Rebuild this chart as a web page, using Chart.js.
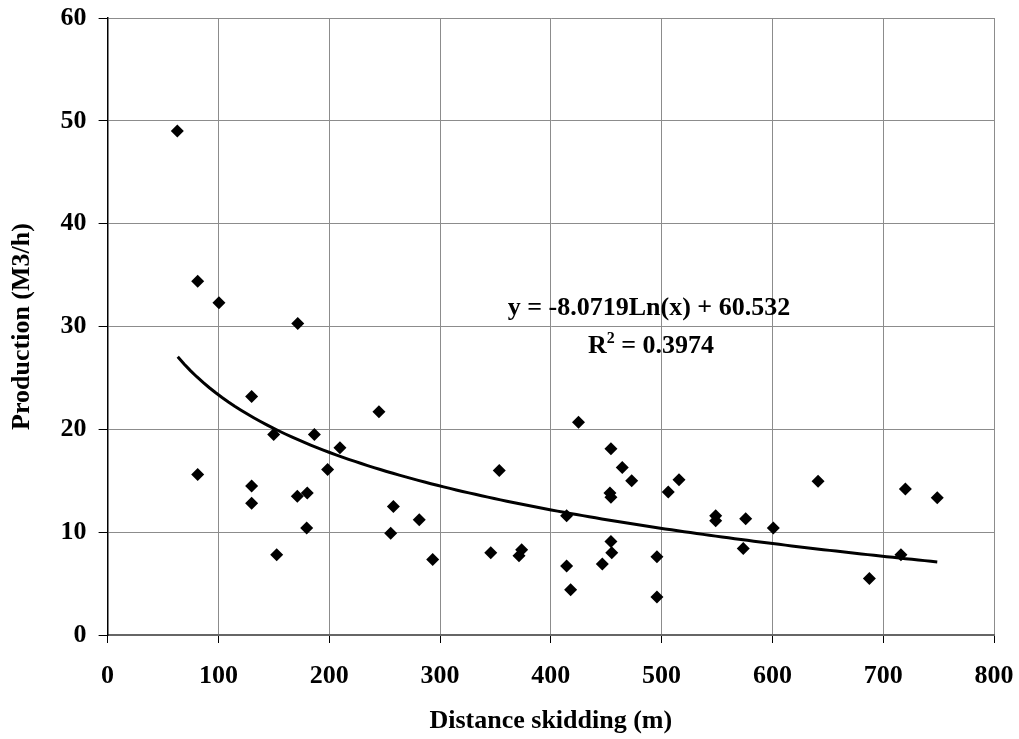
<!DOCTYPE html>
<html>
<head>
<meta charset="utf-8">
<script src="https://cdn.jsdelivr.net/npm/chart.js@4.4.1/dist/chart.umd.min.js"></script>
<style>
  html, body { margin: 0; padding: 0; background: #ffffff; }
  #wrap { width: 1019px; height: 739px; }
</style>
</head>
<body>
<div id="wrap"><canvas id="c" width="1019" height="739"></canvas></div>
<script>
// ---- Data ----
const distance = [62.9,81.3,100.5,171.6,130,149.9,186.6,209.7,198.6,81.3,130,130,171.2,180.2,179.7,152.6,244.9,257.9,281.3,255.5,293.4,353.5,345.8,373.7,371.3,414.3,414.3,417.9,425,454.3,464.5,473,453.4,454.3,506,515.7,454.3,455,446.5,495.8,495.8,548.8,548.8,575.9,573.7,600.8,641.2,720,748.8,716,687.5];
const production = [49.0,34.4,32.3,30.3,23.2,19.5,19.5,18.2,16.1,15.6,14.5,12.8,13.5,13.8,10.4,7.8,21.7,12.5,11.2,9.9,7.35,16.0,8.0,8.3,7.7,11.6,6.7,4.4,20.7,18.1,16.3,15.0,13.8,13.4,13.9,15.1,9.1,8.0,6.9,7.6,3.7,11.6,11.1,11.3,8.4,10.4,14.95,14.2,13.35,7.8,5.5];

// Logarithmic trendline as printed on the chart
const trendSlope = -8.0719;
const trendIntercept = 60.532;
const trendRange = [63.3, 748.8];
const equationLine1 = "y = -8.0719Ln(x) + 60.532";
const rSquaredText = " = 0.3974";

const xTicks = [0,100,200,300,400,500,600,700,800];
const yTicks = [0,10,20,30,40,50,60];
const xTitle = "Distance skidding (m)";
const yTitle = "Production (M3/h)";

const FONT = '"Liberation Serif", "Times New Roman", serif';

const scatterPts = distance.map((d, i) => ({x: d, y: production[i]}));
const trendPts = [];
const nTrend = 120;
for (let i = 0; i <= nTrend; i++) {
  const x = trendRange[0] + (trendRange[1] - trendRange[0]) * i / nTrend;
  trendPts.push({x: x, y: trendSlope * Math.log(x) + trendIntercept});
}

const equationPlugin = {
  id: 'equation',
  afterDatasetsDraw(chart) {
    const {ctx, scales} = chart;
    ctx.save();
    ctx.fillStyle = '#000';
    const big = 'bold 26px ' + FONT;
    const small = 'bold 16px ' + FONT;
    ctx.font = big;
    ctx.textBaseline = 'alphabetic';
    ctx.textAlign = 'center';
    ctx.fillText(equationLine1, scales.x.getPixelForValue(488.6), scales.y.getPixelForValue(31.14));
    ctx.textAlign = 'left';
    const wR = ctx.measureText('R').width;
    const wRest = ctx.measureText(rSquaredText).width;
    ctx.font = small;
    const w2 = ctx.measureText('2').width;
    const total = wR + w2 + wRest;
    const cx = scales.x.getPixelForValue(490.4);
    const by = scales.y.getPixelForValue(27.44);
    let x0 = cx - total / 2;
    ctx.font = big;
    ctx.fillText('R', x0, by);
    ctx.font = small;
    ctx.fillText('2', x0 + wR, by - 10);
    ctx.font = big;
    ctx.fillText(rSquaredText, x0 + wR + w2, by);
    ctx.restore();
  }
};

new Chart(document.getElementById('c'), {
  type: 'scatter',
  data: {
    datasets: [
      {
        label: 'Production',
        data: scatterPts,
        pointStyle: 'rectRot',
        pointRadius: 6.5,
        pointHoverRadius: 6.5,
        backgroundColor: '#000',
        borderColor: '#000',
        borderWidth: 0,
        order: 2
      },
      {
        label: 'Log trend',
        type: 'line',
        data: trendPts,
        borderColor: '#000',
        borderWidth: 3,
        pointRadius: 0,
        fill: false,
        tension: 0,
        order: 1
      }
    ]
  },
  options: {
    responsive: false,
    animation: false,
    devicePixelRatio: 1,
    layout: { padding: { left: 0, right: 25, top: 18, bottom: 0 } },
    plugins: { legend: { display: false }, tooltip: { enabled: false } },
    scales: {
      x: {
        type: 'linear',
        min: 0, max: 800,
        afterBuildTicks: (s) => { s.ticks = xTicks.map(v => ({value: v})); },
        afterFit: (s) => { s.height = 104; s.paddingLeft = 0; s.paddingRight = 0; },
        grid: { color: '#8c8c8c', lineWidth: 1, tickColor: '#000', tickLength: 8, drawTicks: true },
        border: { color: '#666', width: 2 },
        ticks: { color: '#000', padding: 18, font: { family: FONT, size: 26, weight: 'bold' }, maxRotation: 0 },
        title: { display: true, text: xTitle, color: '#000', font: { family: FONT, size: 26, weight: 'bold' }, padding: { top: 0, bottom: 2 } }
      },
      y: {
        type: 'linear',
        min: 0, max: 60,
        afterBuildTicks: (s) => { s.ticks = yTicks.map(v => ({value: v})); },
        afterFit: (s) => { s.width = 107.6; s.paddingTop = 0; s.paddingBottom = 0; },
        grid: { color: '#8c8c8c', lineWidth: 1, tickColor: '#000', tickLength: 9, drawTicks: true },
        border: { color: '#000', width: 1.5 },
        ticks: { color: '#000', padding: 12, font: { family: FONT, size: 26, weight: 'bold' } },
        title: { display: true, text: yTitle, color: '#000', font: { family: FONT, size: 26, weight: 'bold' }, padding: { top: 7, bottom: 0 } }
      }
    }
  },
  plugins: [equationPlugin]
});
</script>
</body>
</html>
